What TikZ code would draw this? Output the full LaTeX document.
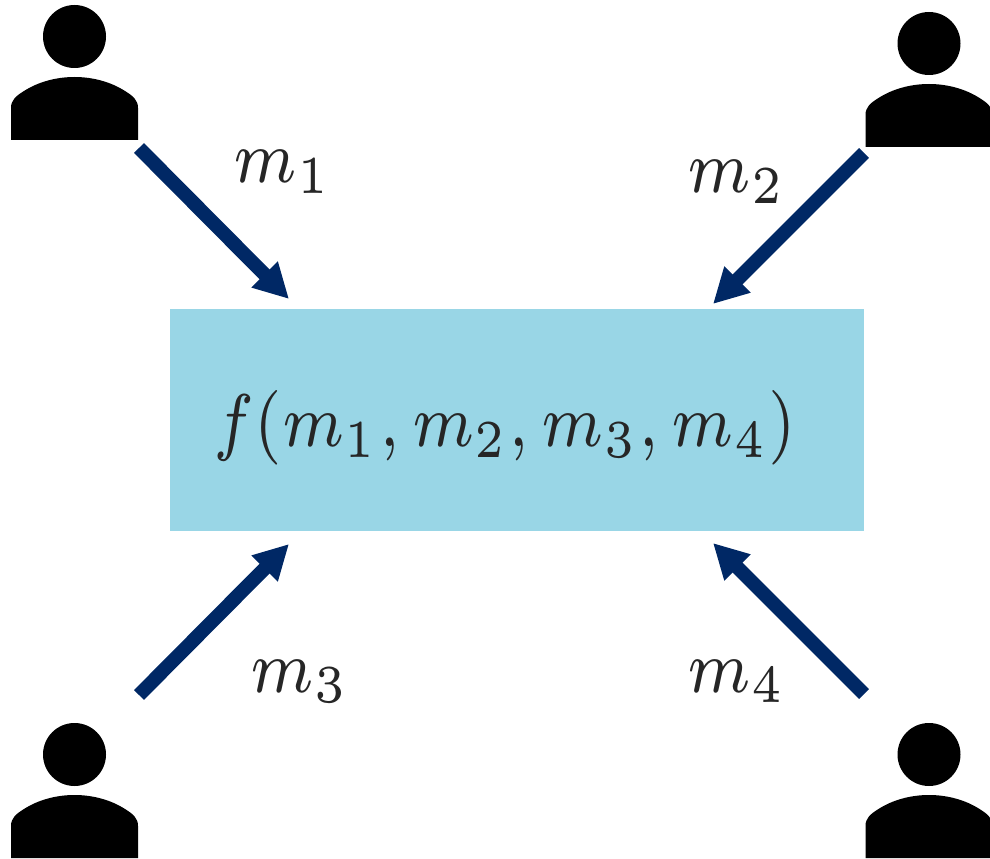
\documentclass[tikz,border=0pt]{standalone}
\usetikzlibrary{arrows.meta}
\definecolor{arrowblue}{HTML}{002865}
\definecolor{boxblue}{HTML}{99D6E6}
\definecolor{inkgrey}{HTML}{262626}
\tikzset{
  flowarrow/.style={draw=arrowblue,line width=10.5pt,-{Triangle[length=26pt,width=26pt,fill=arrowblue]},shorten >=0pt},
  msglabel/.style={text=inkgrey,xscale=6.75,yscale=8,inner sep=0pt,anchor=base west},
  person/.pic={
    \fill[black] (74.5,36.5) circle[radius=31.5];
    \fill[black] (11,140) -- (11,108) .. controls (11,100) and (16,96) .. (24,91)
      .. controls (38,82) and (56,77) .. (74.5,77)
      .. controls (93,77) and (111,82) .. (125,91)
      .. controls (133,96) and (138,100) .. (138,108) -- (138,140) -- cycle;
  }
}
\begin{document}
\begin{tikzpicture}[x=0.75pt,y=-0.75pt]
\useasboundingbox (0,0) rectangle (990,859);
\clip (0,0) rectangle (990,859);
\node[fill=boxblue,minimum width=520.5pt,minimum height=166.5pt,inner sep=0pt,outer sep=0pt] (box) at (517,420) {};
\node[text=inkgrey,xscale=6.6,yscale=8,inner sep=0pt,anchor=base west] (fn) at (212,447) {$\scriptstyle f(m_1,\,m_2,\,m_3,\,m_4)$};
\pic at (0,0) {person};
\pic at (854.5,7) {person};
\pic at (0,718) {person};
\pic at (854.5,718) {person};
\coordinate (a1s) at (139,148); \coordinate (a1e) at (289,299);
\coordinate (a2s) at (864,153); \coordinate (a2e) at (713,304);
\coordinate (a3s) at (139,695); \coordinate (a3e) at (289,544);
\coordinate (a4s) at (864,694); \coordinate (a4e) at (713,543);
\draw[flowarrow] (a1s) -- (a1e);
\draw[flowarrow] (a2s) -- (a2e);
\draw[flowarrow] (a3s) -- (a3e);
\draw[flowarrow] (a4s) -- (a4e);
\node[msglabel] (m1) at (232,183) {$\scriptstyle m_1$};
\node[msglabel] (m2) at (686,193) {$\scriptstyle m_2$};
\node[msglabel] (m3) at (249,692) {$\scriptstyle m_3$};
\node[msglabel] (m4) at (686,692) {$\scriptstyle m_4$};
\end{tikzpicture}
\end{document}
